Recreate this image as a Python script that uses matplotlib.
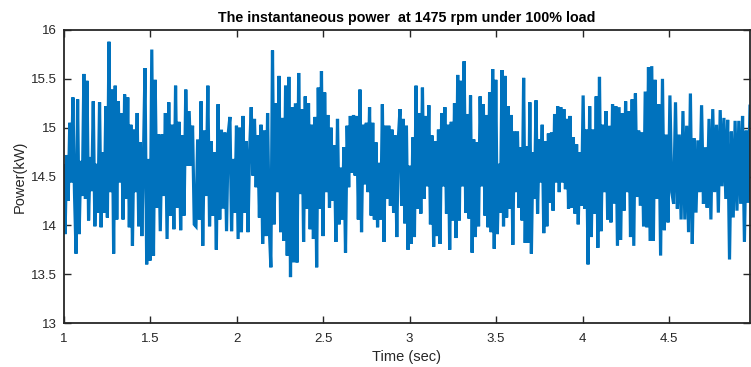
import numpy as np
import matplotlib
matplotlib.use("Agg")
import matplotlib.pyplot as plt

# Instantaneous power samples (kW), grouped by consecutive time spans
power_seg1 = [14.61, 13.91, 14.72, 14.25, 15.05, 14.44, 15.31, 14.34, 13.71, 15.29,
              13.91, 14.66, 14.30, 15.55, 14.27, 15.48, 14.05, 14.70, 14.35, 15.27,
              13.99, 14.63, 14.13, 15.26, 13.98, 14.75, 14.13, 15.22, 14.08, 15.88,
              14.34, 15.39, 13.71, 15.43, 14.06, 15.27, 14.44, 15.15, 14.06, 15.34,
              14.27, 15.31, 13.98, 15.03, 13.79, 14.98, 14.34, 15.15, 13.99, 14.85,
              13.89, 14.68]
power_seg2 = [15.61, 13.60, 14.68, 13.64, 15.80, 13.69, 15.49, 14.18, 14.93, 13.94,
              14.93, 14.30, 15.15, 13.86, 15.26, 14.10, 15.03, 13.96, 15.43, 14.18,
              15.06, 13.95, 14.92, 14.10, 15.39, 14.61, 15.17, 14.61, 15.02, 14.01,
              13.99, 14.88, 14.06, 15.27, 13.79, 14.97, 14.30, 15.43, 13.99, 14.86,
              14.10, 14.75, 13.75, 15.24, 14.06, 14.98, 14.17, 14.95, 13.94, 14.94]
power_seg3 = [15.11, 13.94, 14.68, 14.13, 15.02, 13.86, 15.00, 13.93, 15.12, 14.13,
              14.86, 13.93, 14.75, 15.21, 14.51, 15.09, 14.39, 14.92, 14.08, 15.03,
              13.81, 14.97, 13.89, 15.15, 13.99, 13.57, 15.79, 14.01, 15.25, 14.34,
              15.53, 13.93, 15.10, 13.84, 15.43, 13.69, 15.52, 13.47, 15.21, 13.62,
              15.25, 13.62, 15.56, 14.32, 15.19, 13.83, 15.32, 14.17, 15.25, 13.96,
              15.03, 13.86]
power_seg4 = [15.11, 13.57, 15.41, 14.17, 15.58, 13.89, 15.36, 14.34, 15.13, 14.18,
              15.00, 14.25, 14.82, 13.83, 15.09, 14.01, 14.59, 14.06, 14.80, 13.72,
              15.02, 14.39, 15.12, 14.54, 15.13, 14.51, 15.12, 14.06, 15.39, 13.93,
              15.03, 14.42, 15.05, 14.34, 15.21, 14.10, 15.05, 14.06, 14.85, 13.98,
              14.64, 14.06, 15.24, 13.83, 15.02, 14.27, 15.02, 14.20, 14.98, 14.13,
              14.92, 13.88, 14.90]
power_seg5 = [15.19, 14.20, 15.09, 14.02, 15.02, 13.75, 14.61, 13.81, 14.90, 13.88,
              15.43, 14.17, 15.15, 14.12, 15.41, 14.27, 15.12, 14.40, 15.23, 14.01,
              14.92, 13.78, 14.86, 13.89, 14.98, 13.81, 15.15, 14.40, 15.21, 14.12,
              15.03, 13.75, 15.06, 14.05, 15.25, 13.87, 15.54, 14.05, 15.48, 14.40,
              15.68, 14.13, 15.14, 14.07, 15.33, 13.72, 14.88, 13.88, 14.85, 13.99,
              15.32, 14.40, 15.24]
power_seg6 = [14.10, 15.13, 13.98, 15.36, 13.93, 15.60, 13.76, 15.49, 13.91, 14.63,
              14.13, 15.59, 13.99, 15.53, 14.08, 15.22, 14.17, 15.13, 13.80, 14.96,
              14.34, 14.96, 14.18, 14.80, 14.05, 15.51, 13.82, 14.81, 13.82, 15.26,
              13.71, 14.75, 14.27, 15.28, 14.12, 14.88, 14.44, 15.03, 13.92, 14.86,
              13.99, 14.94, 14.23, 14.95, 14.15, 15.14, 14.44, 15.22, 14.34, 15.21,
              14.44, 15.19, 14.37, 15.09, 14.17]
power_seg7 = [15.12, 14.18, 14.90, 14.12, 14.83, 14.01, 14.75, 14.20, 15.33, 14.17,
              14.98, 13.60, 15.22, 13.88, 14.98, 14.12, 15.32, 13.77, 15.52, 13.94,
              15.03, 14.34, 15.17, 14.06, 15.02, 14.03, 15.24, 14.22, 15.22, 13.79,
              15.21, 13.85, 15.15, 14.15, 15.27, 14.34, 15.17, 13.88, 15.29, 13.79,
              15.35, 14.29, 14.97, 14.20, 14.95, 13.99, 15.37, 13.98, 15.62, 13.84,
              15.63, 13.84]
power_seg8 = [15.49, 14.27, 15.24, 13.69, 15.50, 13.95, 14.93, 14.03, 15.33, 14.34,
              14.22, 15.26, 14.17, 14.93, 14.06, 15.17, 14.06, 15.02, 13.93, 15.35,
              13.81, 14.89, 14.13, 14.87, 14.34, 15.23, 14.22, 14.80, 14.18, 15.09,
              14.06, 15.19, 14.34, 15.03, 14.13, 15.18, 14.40, 15.10, 14.27, 15.08,
              13.65, 14.96, 14.08, 15.07, 14.15, 15.07, 14.22, 15.12, 13.83, 14.97,
              14.23, 15.22]

segments = [power_seg1, power_seg2, power_seg3, power_seg4,
            power_seg5, power_seg6, power_seg7, power_seg8]
# Start/end time (s) of each span
segment_edges_s = [1.0, 1.471, 1.962, 2.454, 2.945, 3.436, 3.928, 4.419, 4.968]

x_ticks = [1, 1.5, 2, 2.5, 3, 3.5, 4, 4.5]
x_tick_labels = ["1", "1.5", "2", "2.5", "3", "3.5", "4", "4.5"]
y_ticks = [13, 13.5, 14, 14.5, 15, 15.5, 16]
y_tick_labels = ["13", "13.5", "14", "14.5", "15", "15.5", "16"]

t_parts = []
for i, seg in enumerate(segments):
    last = i == len(segments) - 1
    t_parts.append(np.linspace(segment_edges_s[i], segment_edges_s[i + 1],
                               len(seg), endpoint=last))
time_s = np.concatenate(t_parts)
power_kw = np.concatenate([np.asarray(s, dtype=float) for s in segments])

plt.rcParams["font.family"] = ["Liberation Sans", "DejaVu Sans"]
axis_color = "#262626"

fig = plt.figure(figsize=(7.51, 3.67), dpi=100)
ax = fig.add_axes([63.5 / 751, 44 / 367, 686.5 / 751, 293 / 367])

ax.plot(time_s, power_kw, color="#0072BD", linewidth=2.3, solid_joinstyle="miter")

ax.set_xlim(segment_edges_s[0], segment_edges_s[-1])
ax.set_ylim(13, 16)
ax.set_xticks(x_ticks)
ax.set_xticklabels(x_tick_labels)
ax.set_yticks(y_ticks)
ax.set_yticklabels(y_tick_labels)

ax.tick_params(direction="in", length=5, width=1.0, colors=axis_color,
               labelsize=9.5, top=True, right=True)
ax.tick_params(axis="x", pad=7)
ax.tick_params(axis="y", pad=5)
for side in ax.spines.values():
    side.set_color(axis_color)
    side.set_linewidth(1.3)

ax.set_title("The instantaneous power  at 1475 rpm under 100% load",
             fontsize=10.3, fontweight="bold", color="black", pad=6)
ax.set_xlabel("Time (sec)", fontsize=10.5, color=axis_color, labelpad=4)
ax.set_ylabel("Power(kW)", fontsize=10.5, color=axis_color, labelpad=3)

fig.savefig("out.png", dpi=100)
